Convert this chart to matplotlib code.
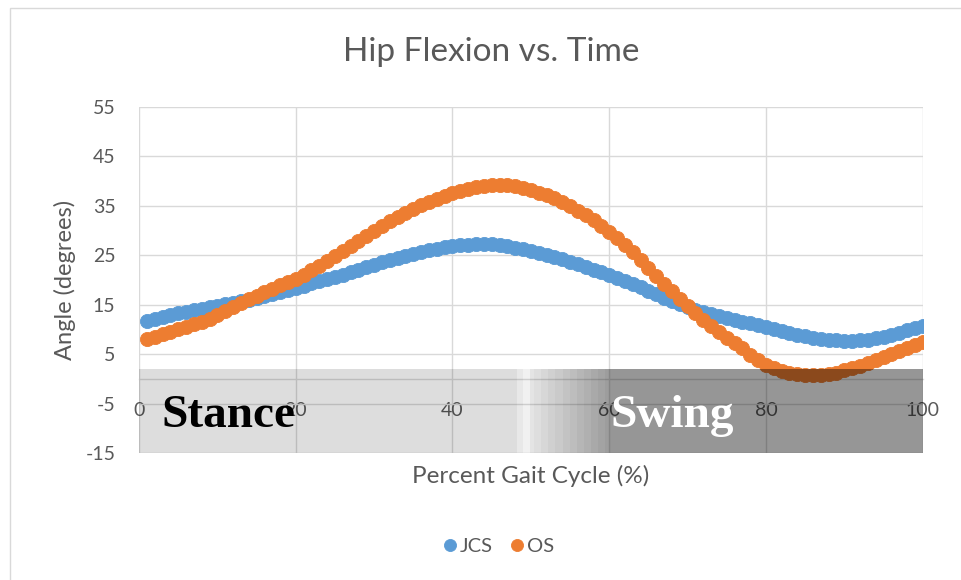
import numpy as np
import matplotlib
matplotlib.use("Agg")
import matplotlib.pyplot as plt
from matplotlib.patches import Rectangle

plt.rcParams['font.family'] = ['Lato', 'DejaVu Sans']
plt.rcParams['axes.unicode_minus'] = False

# ---------------- data ----------------
gait_pct = list(range(1, 101))
jcs = [11.7, 12.2, 12.6, 13.0, 13.3, 13.6, 13.9, 14.2, 14.5, 14.8,
       15.1, 15.4, 15.7, 16.0, 16.4, 16.8, 17.2, 17.6, 18.0, 18.4,
       18.8, 19.3, 19.7, 20.2, 20.6, 21.1, 21.6, 22.1, 22.6, 23.1,
       23.6, 24.0, 24.5, 24.9, 25.3, 25.7, 26.0, 26.3, 26.6, 26.8,
       27.0, 27.1, 27.2, 27.2, 27.2, 27.0, 26.8, 26.5, 26.2, 25.9,
       25.5, 25.1, 24.7, 24.2, 23.7, 23.2, 22.7, 22.1, 21.6, 21.0,
       20.4, 19.8, 19.2, 18.5, 17.8, 17.1, 16.4, 15.8, 15.2, 14.6,
       14.0, 13.5, 13.1, 12.8, 12.4, 12.0, 11.6, 11.2, 10.8, 10.5,
       10.1, 9.7, 9.3, 8.9, 8.6, 8.3, 8.1, 7.9, 7.8, 7.7,
       7.7, 7.8, 7.9, 8.2, 8.5, 8.9, 9.3, 9.8, 10.2, 10.7]
os_vals = [8.0, 8.5, 9.0, 9.5, 10.0, 10.5, 11.0, 11.5, 12.2, 13.0,
           13.8, 14.6, 15.4, 16.1, 16.8, 17.5, 18.2, 18.9, 19.6, 20.3,
           21.1, 22.0, 22.9, 23.9, 24.9, 25.9, 26.9, 27.9, 28.9, 29.9,
           30.9, 31.9, 32.7, 33.5, 34.3, 35.1, 35.8, 36.4, 37.0, 37.5,
           38.0, 38.4, 38.8, 39.0, 39.2, 39.2, 39.2, 39.0, 38.6, 38.2,
           37.7, 37.1, 36.5, 35.7, 34.9, 34.0, 33.1, 32.1, 31.0, 29.8,
           28.5, 27.1, 25.6, 24.0, 22.4, 20.8, 19.2, 17.7, 16.2, 14.7,
           13.3, 11.9, 10.6, 9.4, 8.3, 7.2, 6.2, 4.8, 3.8, 2.9,
           2.2, 1.6, 1.2, 0.9, 0.8, 0.7, 0.8, 0.9, 1.2, 1.7,
           2.1, 2.6, 3.2, 3.8, 4.4, 5.0, 5.6, 6.2, 6.8, 7.4]
series_names = ['JCS', 'OS']
x_ticks = [0, 20, 40, 60, 80, 100]
y_ticks = [-15, -5, 5, 15, 25, 35, 45, 55]
phase_labels = ['Stance', 'Swing']
phase_label_x = [2.8, 60.1]

# gray overlay band (gray level of band over white, by gait %)
band_x = [0, 48.2, 48.2, 49.0, 49.0, 49.9, 49.9, 60.1, 60.1, 100]
band_gray = [220, 220, 232, 232, 241, 241, 228, 155, 150, 150]
band_ytop = 1.8

# ---------------- figure ----------------
W, H = 961, 580
fig = plt.figure(figsize=(W / 100, H / 100), dpi=100)

# chart-area border
fig.patches.append(Rectangle((10 / W, -0.1), 1.2, 1 - 8 / H + 0.1,
                             transform=fig.transFigure, fill=False,
                             edgecolor='#d9d9d9', linewidth=1.0))

x0, x1 = 139, 922.7
yt, yb = 107, 453
pos = [x0 / W, 1 - yb / H, (x1 - x0) / W, (yb - yt) / H]
ax = fig.add_axes(pos)
ax.set_xlim(0, 100)
ax.set_ylim(-15, 55)

grid_c = '#d9d9d9'
txt_c = '#595959'
ax.set_xticks(x_ticks)
ax.set_yticks(y_ticks)
ax.grid(True, color=grid_c, linewidth=1.0)
ax.set_axisbelow(True)
for s in ['top', 'right', 'left']:
    ax.spines[s].set_visible(False)
ax.spines['bottom'].set_position(('data', 0))
ax.spines['bottom'].set_color(grid_c)
ax.spines['bottom'].set_linewidth(1.0)
ax.tick_params(axis='both', length=0, labelsize=14, labelcolor=txt_c)
ax.tick_params(axis='x', pad=17)
ax.tick_params(axis='y', pad=17)

colors = ['#5B9BD5', '#ED7D31']
for vals, c, name in zip([jcs, os_vals], colors, series_names):
    ax.plot(gait_pct, vals, linestyle='none', marker='o', markersize=10.2,
            markerfacecolor=c, markeredgecolor=c, markeredgewidth=0.6,
            label=name, zorder=3)

ax.set_ylabel('Angle (degrees)', fontsize=17, color=txt_c, labelpad=7)
fig.text(530.5 / W, 1 - 476 / H, 'Percent Gait Cycle (%)', fontsize=17.5,
         color=txt_c, ha='center', va='center')
fig.text(491 / W, 1 - 52 / H, 'Hip Flexion vs. Time', fontsize=24,
         color=txt_c, ha='center', va='center')

# legend
handles, labels = ax.get_legend_handles_labels()
leg = fig.legend(handles, labels, loc='center',
                 bbox_to_anchor=(497 / W, 1 - 546 / H), ncol=2,
                 frameon=False, fontsize=14.5, handletextpad=0.0,
                 columnspacing=0.7, handlelength=1.0, markerscale=0.85)
for t in leg.get_texts():
    t.set_color(txt_c)

# overlay band (semi-transparent image pasted on top)
ax2 = fig.add_axes(pos)
ax2.axis('off')
xs = np.linspace(0, 100, 1001)
xc = 0.5 * (xs[:-1] + xs[1:])
gray = np.interp(xc, band_x, band_gray)
ramp = (xc > 49.9) & (xc < 60.1)
gray[ramp] = np.round(gray[ramp] / 6.5) * 6.5
alpha = 1 - gray / 255.0
img = np.zeros((1, len(xc), 4))
img[0, :, 3] = alpha
ax2.imshow(img, extent=[0, 100, -15, band_ytop], aspect='auto',
           interpolation='nearest', zorder=1)
ax2.set_xlim(0, 100)
ax2.set_ylim(-15, 55)

phase_colors = ['black', 'white']
for lab, xx, c in zip(phase_labels, phase_label_x, phase_colors):
    ax2.text(xx, -9.7, lab, family='Liberation Serif', fontweight='bold',
             fontsize=34, color=c, ha='left', va='baseline', zorder=5)

fig.savefig('out.png', dpi=100)
